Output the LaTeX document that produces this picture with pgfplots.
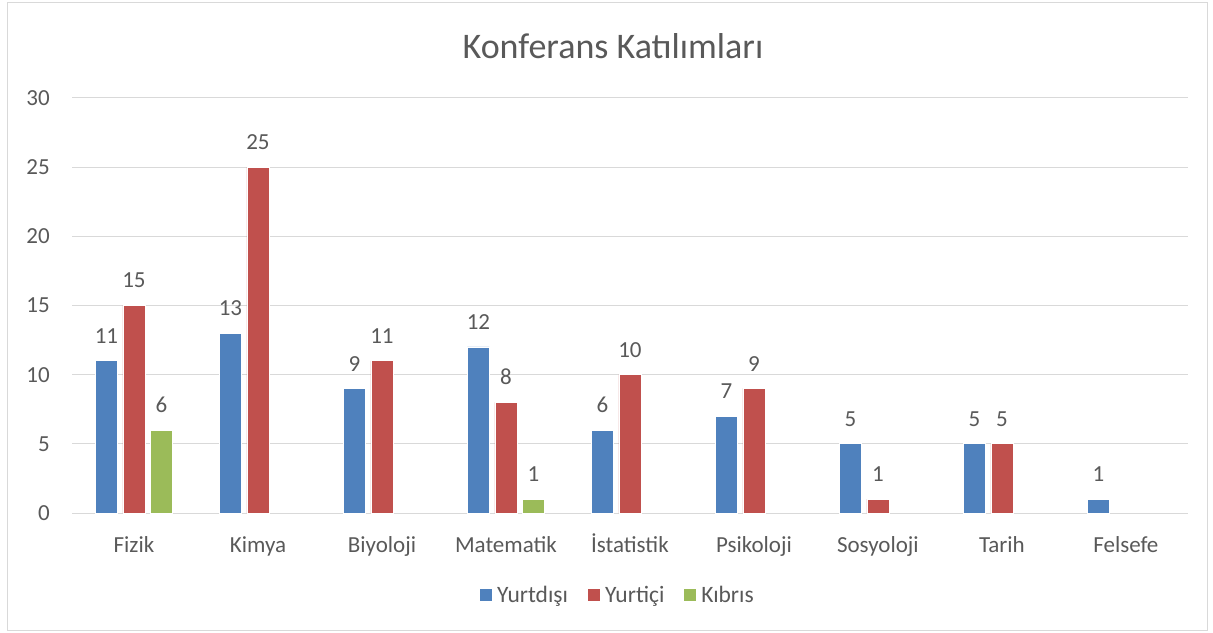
\documentclass[border=0pt]{standalone}
\usepackage{pgfplots}
\pgfplotsset{compat=1.18}
\usepackage{fontspec}
\setmainfont{Carlito}
\definecolor{cblue}{HTML}{4F81BD}
\definecolor{cred}{HTML}{C0504D}
\definecolor{cgreen}{HTML}{9BBB59}
\definecolor{ctext}{HTML}{595959}
\definecolor{cgrid}{HTML}{D9D9D9}
\begin{document}
\begin{tikzpicture}
\useasboundingbox (-72bp,-120bp) rectangle (1141bp,513bp);
\draw[cgrid, line width=1bp] (-64bp,-117bp) rectangle (1135bp,510bp);
\begin{axis}[
  scale only axis,
  width=1116bp, height=415bp,
  xmin=-0.5, xmax=8.5,
  ymin=0, ymax=30,
  ytick={0,5,...,30},
  xtick={0,1,2,3,4,5,6,7,8},
  xticklabels={Fizik,Kimya,Biyoloji,Matematik,İstatistik,Psikoloji,Sosyoloji,Tarih,Felsefe},
  axis line style={draw=none},
  major tick length=0pt,
  ymajorgrids,
  grid style={cgrid, line width=1bp},
  ticklabel style={font=\fontsize{23bp}{27bp}\selectfont, color=ctext},
  /pgf/number format/assume math mode=true,
  xticklabel style={inner sep=0pt, anchor=base, yshift=-39bp},
  yticklabel style={inner sep=0pt, xshift=-22bp},
  ybar, bar width=22bp,
  nodes near coords,
  every node near coord/.append style={font=\fontsize{23bp}{27bp}\selectfont, color=ctext, inner sep=0pt, anchor=south, yshift=17bp},
  legend columns=-1,
  legend style={at={(0.4884,-0.1976)}, anchor=center, draw=none, fill=none,
    font=\fontsize{23.5bp}{27bp}\selectfont, text=ctext,
    nodes={inner sep=0pt},
    /tikz/every odd column/.append style={column sep=5bp},
    /tikz/every even column/.append style={column sep=20bp}},
  legend image code/.code={\path[#1, draw=none] (0bp,-6bp) rectangle (12bp,6bp);},
]
\addplot[fill=cblue, draw=white, line width=0.8bp, bar shift=-27.5bp] coordinates {(0,11) (1,13) (2,9) (3,12) (4,6) (5,7) (6,5) (7,5) (8,1)};
\addplot[fill=cred, draw=white, line width=0.8bp, bar shift=0bp] coordinates {(0,15) (1,25) (2,11) (3,8) (4,10) (5,9) (6,1) (7,5)};
\addplot[fill=cgreen, draw=white, line width=0.8bp, bar shift=27.5bp] coordinates {(0,6) (3,1)};
\legend{Yurtdışı,Yurtiçi,Kıbrıs}
\end{axis}
\node[font=\fontsize{36bp}{40bp}\selectfont, color=ctext] at (541bp,467bp) {Konferans Katılımları};
\end{tikzpicture}
\end{document}
